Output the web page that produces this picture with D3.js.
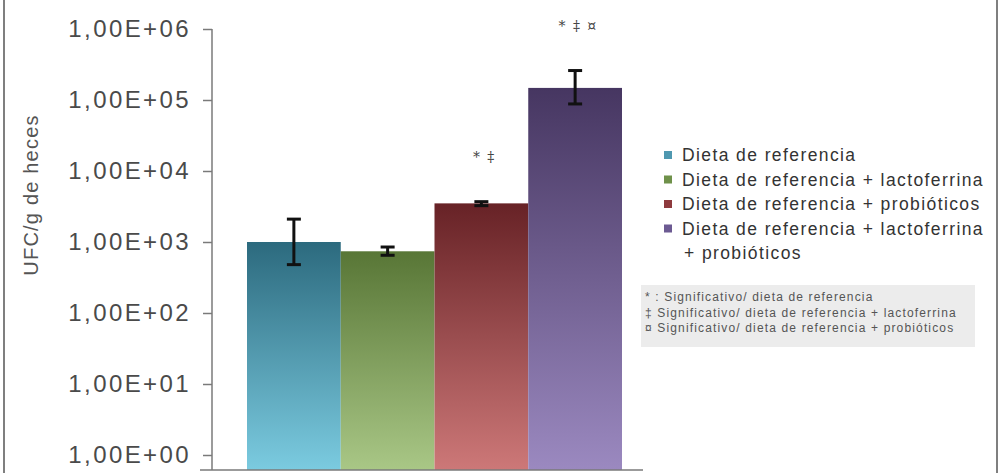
<!DOCTYPE html>
<html>
<head>
<meta charset="utf-8">
<script src="https://cdn.jsdelivr.net/npm/d3@7"></script>
<style>
body { margin: 0; background: #fff; }
svg { display: block; font-family: "Liberation Sans", Arial, sans-serif; }
</style>
</head>
<body>
<script>
let width = 1000;
let height = 473;

// data
let groups = ["Dieta de referencia", "Dieta de referencia + lactoferrina", "Dieta de referencia + probióticos", "Dieta de referencia + lactoferrina + probióticos"];
let means = [1000, 740, 3500, 148000];
let errLow = [480, 650, 3250, 88000];
let errHigh = [2100, 850, 3700, 260000];
let marks = ["", "", "* ‡", "* ‡ ¤"];
let tickVals = [1, 10, 100, 1000, 10000, 100000, 1000000];
let tickLabels = ["1,00E+00", "1,00E+01", "1,00E+02", "1,00E+03", "1,00E+04", "1,00E+05", "1,00E+06"];
let legendLines = ["Dieta de referencia", "Dieta de referencia + lactoferrina", "Dieta de referencia + probióticos", "Dieta de referencia + lactoferrina"];
let notes = ["* : Significativo/ dieta de referencia", "‡ Significativo/ dieta de referencia + lactoferrina", "¤ Significativo/ dieta de referencia + probióticos"];

let topColors = ["#2c6a7e", "#587636", "#672226", "#463661"];
let bottomColors = ["#7bcbe0", "#a9c786", "#cd7878", "#9b89c0"];
let keyColors = ["#4f98b0", "#6f914a", "#8e3a3e", "#6c5a92"];

let svg = d3.select("body").append("svg");
svg.attr("width", width).attr("height", height);

let defs = svg.append("defs");
groups.forEach(function(g, i){
    let grad = defs.append("linearGradient")
        .attr("id", "grad" + i)
        .attr("x1", 0).attr("y1", 0).attr("x2", 0).attr("y2", 1);
    grad.append("stop").attr("offset", "0%").attr("stop-color", topColors[i]);
    grad.append("stop").attr("offset", "100%").attr("stop-color", bottomColors[i]);
});

// frame
svg.append("line").attr("x1", 4).attr("x2", 4).attr("y1", 0).attr("y2", height)
    .attr("stroke", "#555").attr("stroke-width", 1.5);
svg.append("line").attr("x1", 997).attr("x2", 997).attr("y1", 0).attr("y2", height)
    .attr("stroke", "#555").attr("stroke-width", 1.5);

let plotBottom = 470;
let axisX = 212;

let y = d3.scaleLog().domain([1, 1000000]).range([455, 29]);
let x = d3.scaleBand().domain(groups).range([247, 622]).padding(0);

let chartGroup = svg.append("g").attr("class", "chartGroup");

// bars
chartGroup.selectAll("rect.bar")
    .data(means)
    .enter()
    .append("rect")
        .attr("class", "bar")
        .attr("x", function(d, i){ return x(groups[i]); })
        .attr("y", function(d){ return y(d); })
        .attr("width", x.bandwidth())
        .attr("height", function(d){ return plotBottom - y(d); })
        .attr("fill", function(d, i){ return "url(#grad" + i + ")"; })
;

// y axis
let yAxis = d3.axisLeft(y)
    .tickValues(tickVals)
    .tickFormat(function(d, i){ return tickLabels[i]; })
    .tickSize(9)
    .tickPadding(12);
let axisG = chartGroup.append("g")
    .attr("transform", "translate(" + axisX + ",0)")
    .call(yAxis);
axisG.select(".domain").remove();
axisG.selectAll(".tick line").attr("stroke", "#7a7a7a").attr("stroke-width", 1.5);
axisG.selectAll(".tick text")
    .attr("fill", "#4a4a4a")
    .style("font-size", "24px")
    .style("letter-spacing", "2.4px")
    .style("font-family", "'Liberation Sans', Arial, sans-serif");
chartGroup.append("line")
    .attr("x1", axisX).attr("x2", axisX)
    .attr("y1", y(1000000)).attr("y2", plotBottom)
    .attr("stroke", "#7a7a7a").attr("stroke-width", 1.5);
chartGroup.append("line")
    .attr("x1", 200).attr("x2", 643)
    .attr("y1", plotBottom).attr("y2", plotBottom)
    .attr("stroke", "#7a7a7a").attr("stroke-width", 1.5);

// error bars
let errG = chartGroup.selectAll("g.err")
    .data(means)
    .enter()
    .append("g")
        .attr("class", "err")
        .attr("stroke", "#111")
        .attr("stroke-width", 3);
errG.append("line")
    .attr("x1", function(d, i){ return x(groups[i]) + x.bandwidth()/2; })
    .attr("x2", function(d, i){ return x(groups[i]) + x.bandwidth()/2; })
    .attr("y1", function(d, i){ return y(errHigh[i]); })
    .attr("y2", function(d, i){ return y(errLow[i]); });
errG.append("line")
    .attr("x1", function(d, i){ return x(groups[i]) + x.bandwidth()/2 - 7; })
    .attr("x2", function(d, i){ return x(groups[i]) + x.bandwidth()/2 + 7; })
    .attr("y1", function(d, i){ return y(errHigh[i]); })
    .attr("y2", function(d, i){ return y(errHigh[i]); });
errG.append("line")
    .attr("x1", function(d, i){ return x(groups[i]) + x.bandwidth()/2 - 7; })
    .attr("x2", function(d, i){ return x(groups[i]) + x.bandwidth()/2 + 7; })
    .attr("y1", function(d, i){ return y(errLow[i]); })
    .attr("y2", function(d, i){ return y(errLow[i]); });

// significance marks
chartGroup.selectAll("text.mark")
    .data(marks)
    .enter()
    .append("text")
        .attr("class", "mark")
        .attr("x", function(d, i){ return x(groups[i]) + x.bandwidth()/2 + 3; })
        .attr("y", function(d, i){ return y(errHigh[i]) - 40; })
        .attr("text-anchor", "middle")
        .attr("fill", "#444")
        .style("font-size", "14px")
        .style("letter-spacing", "1.5px")
        .style("font-family", "'DejaVu Serif', serif")
        .text(function(d){ return d; })
;

// y title
svg.append("text")
    .attr("transform", "translate(38,195) rotate(-90)")
    .attr("text-anchor", "middle")
    .attr("fill", "#555")
    .style("font-size", "20px")
    .style("letter-spacing", "1.2px")
    .text("UFC/g de heces");

// legend
let legend = svg.append("g").attr("class", "legend");
legend.selectAll("rect")
    .data(legendLines)
    .enter()
    .append("rect")
        .attr("x", 664)
        .attr("y", function(d, i){ return 151 + i * 24.5; })
        .attr("width", 8)
        .attr("height", 8)
        .attr("fill", function(d, i){ return keyColors[i]; });
legend.selectAll("text.item")
    .data(legendLines)
    .enter()
    .append("text")
        .attr("class", "item")
        .attr("x", 682)
        .attr("y", function(d, i){ return 161 + i * 24.5; })
        .attr("fill", "#333")
        .style("font-size", "17.5px")
        .style("letter-spacing", "1.4px")
        .text(function(d){ return d; });
legend.append("text")
    .attr("x", 684)
    .attr("y", 161 + 4 * 24.5)
    .attr("fill", "#333")
    .style("font-size", "17.5px")
    .style("letter-spacing", "1.4px")
    .text("+ probióticos");

// notes box
svg.append("rect")
    .attr("x", 641).attr("y", 285)
    .attr("width", 334).attr("height", 62)
    .attr("fill", "#ececec");
svg.selectAll("text.note")
    .data(notes)
    .enter()
    .append("text")
        .attr("class", "note")
        .attr("x", 645)
        .attr("y", function(d, i){ return 301 + i * 15.5; })
        .attr("fill", "#555")
        .style("font-size", "12px")
        .style("letter-spacing", "1.15px")
        .text(function(d){ return d; });
</script>
</body>
</html>
